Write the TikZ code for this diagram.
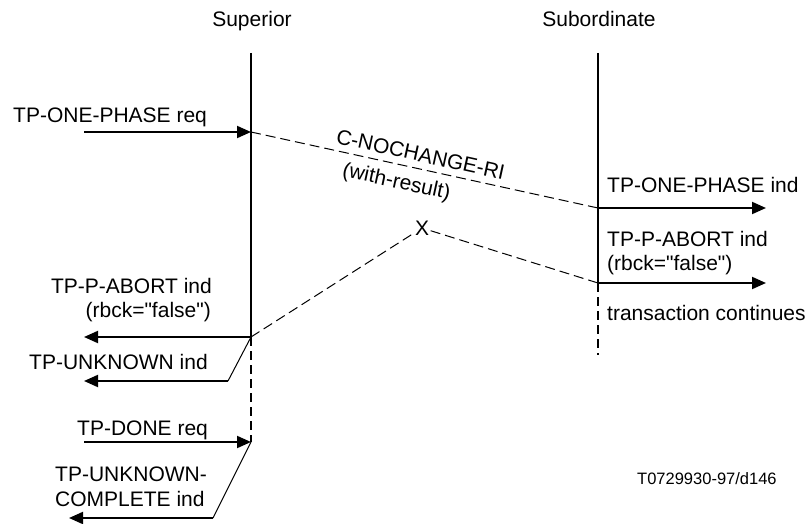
\documentclass[tikz,border=0pt]{standalone}
\usepackage{fontspec}
\setmainfont{Liberation Sans}[Ligatures=TeXOff]
\usetikzlibrary{arrows.meta}
\begin{document}
\begin{tikzpicture}[x=1pt,y=-1pt,
  lbl/.style={font=\fontsize{21}{25}\selectfont, inner sep=0pt},
  small/.style={font=\fontsize{16.5}{20}\selectfont, inner sep=0pt},
  life/.style={line width=2pt},
  lifedash/.style={line width=2pt, dash pattern=on 9pt off 5pt},
  msg/.style={line width=2pt, -{Triangle[length=14pt,width=12pt]}},
  slant/.style={line width=1pt},
  pdu/.style={line width=1pt, dash pattern=on 10pt off 5pt}]
\useasboundingbox (0,0) rectangle (808,524);

% lifelines
\coordinate (supTop) at (251,53);
\coordinate (supA) at (251,132);
\coordinate (supB) at (251,337);
\coordinate (supC) at (251,442);
\coordinate (subTop) at (598,53);
\coordinate (subA) at (598,208);
\coordinate (subB) at (598,283);
\coordinate (subEnd) at (598,355);

\node[lbl, anchor=base] (tsup) at (252,27) {Superior};
\node[lbl, anchor=base] (tsub) at (599,27) {Subordinate};

\draw[life] (supTop) -- (supB);
\draw[lifedash] (supB) -- (supC);
\draw[life] (subTop) -- (subB);
\draw[lifedash] (subB) -- (subEnd);

% TP-ONE-PHASE req
\coordinate (reqS) at (84,132);
\node[lbl, anchor=base west] (lreq) at (13,123) {TP-ONE-PHASE req};
\draw[msg] (reqS) -- (supA);

% C-NOCHANGE-RI
\draw[pdu] (supA) -- node[lbl, sloped, above=6.5pt, pos=0.48] (lnc) {C-NOCHANGE-RI}
  node[lbl, sloped, below=8pt, pos=0.43] (lwr) {(with-result)} (subA);

% TP-ONE-PHASE ind
\coordinate (indE) at (766,208);
\node[lbl, anchor=base west] (lind) at (607,192) {TP-ONE-PHASE ind};
\draw[msg] (subA) -- (indE);

% X (lost P-ABORT)
\node[lbl, inner sep=1.5pt] (X) at (422,228) {X};
\draw[pdu] (X) -- (subB);
\draw[pdu] (supB) -- (X);

% right TP-P-ABORT ind
\coordinate (abE) at (766,283);
\node[lbl, anchor=base west] (lab1) at (607,246) {TP-P-ABORT ind};
\node[lbl, anchor=base west] (lab2) at (607,270) {(rbck="false")};
\draw[msg] (subB) -- (abE);
\node[lbl, anchor=base west] (ltc) at (607,320) {transaction continues};

% left TP-P-ABORT ind
\coordinate (labE) at (84,337);
\node[lbl, anchor=base east] (llab1) at (212,293) {TP-P-ABORT ind};
\node[lbl, anchor=base east] (llab2) at (211,317) {(rbck="false")};
\draw[msg] (supB) -- (labE);

% TP-UNKNOWN ind
\coordinate (unkC) at (228,381);
\coordinate (unkE) at (84,381);
\node[lbl, anchor=base west] (lunk) at (29,369) {TP-UNKNOWN ind};
\draw[slant] (supB) -- (unkC);
\draw[msg] (unkC) -- (unkE);

% TP-DONE req
\coordinate (doneS) at (84,442);
\node[lbl, anchor=base west] (ldone) at (77,435) {TP-DONE req};
\draw[msg] (doneS) -- (supC);

% TP-UNKNOWN-COMPLETE ind
\coordinate (ucC) at (213,518);
\coordinate (ucE) at (69,518);
\node[lbl, anchor=base west] (luc1) at (55,481) {TP-UNKNOWN-};
\node[lbl, anchor=base west] (luc2) at (55,506) {COMPLETE ind};
\draw[slant] (supC) -- (ucC);
\draw[msg] (ucC) -- (ucE);

\node[small, anchor=base west] (ref) at (637,484) {T0729930-97/d146};
\end{tikzpicture}
\end{document}
